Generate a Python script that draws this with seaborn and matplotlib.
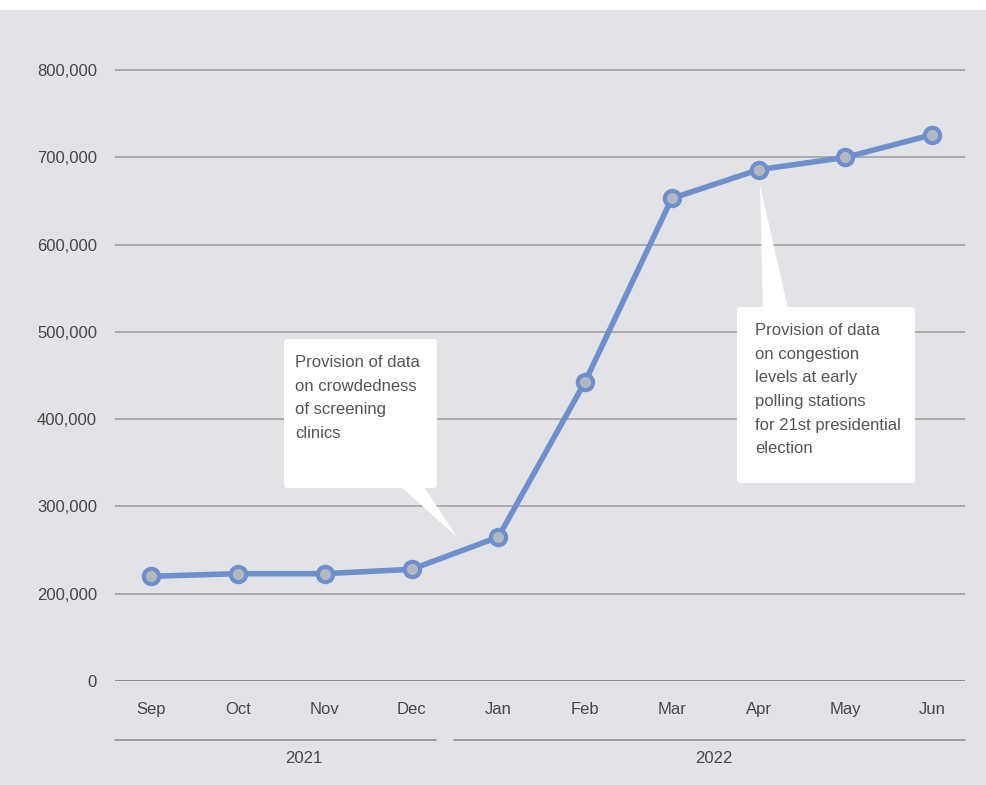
import matplotlib.pyplot as plt
import matplotlib.patches as mpatches
from matplotlib.transforms import blended_transform_factory
import seaborn as sns
import pandas as pd

# data
months = ['Sep', 'Oct', 'Nov', 'Dec', 'Jan', 'Feb', 'Mar', 'Apr', 'May', 'Jun']
users = [220000, 223000, 223000, 228000, 265000, 443000, 653000, 686000, 700000, 726000]
years = ['2021', '2022']
ytick_values = [100000, 200000, 300000, 400000, 500000, 600000, 700000, 800000]
ytick_labels = ['0', '200,000', '300,000', '400,000', '500,000', '600,000', '700,000', '800,000']
note_clinics = 'Provision of data\non crowdedness\nof screening\nclinics'
note_election = ('Provision of data\non congestion\nlevels at early\npolling stations\n'
                 'for 21st presidential\nelection')

sns.set_style('white')
plt.rcParams['font.family'] = ['Liberation Sans', 'DejaVu Sans']

BG = '#e2e3e7'
BLUE = '#6e8fcd'
W, H = 986, 785

fig = plt.figure(figsize=(W / 100, H / 100), dpi=100, facecolor=BG)


def fx(x):
    return x / W


def fy(y):
    return 1 - y / H


ax = fig.add_axes([fx(115), fy(681), fx(965) - fx(115), fy(44) - fy(681)])
ax.set_facecolor(BG)

df = pd.DataFrame({'pos': range(len(months)), 'users': users})
sns.lineplot(data=df, x='pos', y='users', ax=ax, color=BLUE, lw=4,
             marker='o', markersize=11, markerfacecolor='#b4b7be',
             markeredgecolor=BLUE, markeredgewidth=3, zorder=5)

ax.set_xlim(-0.42, 9.38)
ax.set_ylim(100000, 830000)
ax.set_yticks(ytick_values)
ax.set_yticklabels(ytick_labels)
ax.set_xticks(range(len(months)))
ax.set_xticklabels(months)
ax.tick_params(axis='y', length=0, pad=13, labelsize=12, labelcolor='#474747')
ax.tick_params(axis='x', length=0, pad=15, labelsize=12, labelcolor='#474747')
ax.set_xlabel('')
ax.set_ylabel('')
for s in ax.spines.values():
    s.set_visible(False)

ax.grid(axis='y', color='#9c9c9c', lw=1.1)
ax.grid(axis='x', visible=False)
ax.set_axisbelow(True)
ax.axhline(100000, color='#8c8c8c', lw=2, zorder=2)

# year brackets under the month labels
tr = blended_transform_factory(ax.transData, ax.transAxes)
spans = [(-0.42, 3.28), (3.49, 9.38)]
label_x = [1.76, 6.48]
for yr, (a, b), lx in zip(years, spans, label_x):
    ax.plot([a, b], [-0.0926, -0.0926], transform=tr, color='#979797', lw=1.3,
            clip_on=False)
    ax.text(lx, -0.122, yr, transform=tr, ha='center', va='center',
            fontsize=12, color='#474747')

# white top strip
fig.add_artist(mpatches.Rectangle((0, fy(10)), 1, 1 - fy(10), transform=fig.transFigure,
                                  facecolor='white', edgecolor='none', zorder=0.5))

# callouts


def callout(box, tail, text, text_xy):
    x0, y0, x1, y1 = box
    fig.add_artist(mpatches.FancyBboxPatch(
        (fx(x0), fy(y1)), fx(x1) - fx(x0), fy(y0) - fy(y1),
        boxstyle='round,pad=0,rounding_size=0.004', transform=fig.transFigure,
        facecolor='white', edgecolor='none', zorder=3))
    fig.add_artist(mpatches.Polygon([(fx(px), fy(py)) for px, py in tail],
                                    closed=True, transform=fig.transFigure,
                                    facecolor='white', edgecolor='none', zorder=3))
    fig.text(fx(text_xy[0]), fy(text_xy[1]), text, ha='left', va='top',
             fontsize=12, color='#555555', linespacing=1.72, zorder=4)


callout((284, 339, 437, 488), [(401, 487), (424, 487), (457, 537)],
        note_clinics, (295, 355))
callout((737, 307, 915, 483), [(760, 185), (763, 309), (788, 309)],
        note_election, (755, 323))

fig.savefig('out.png', dpi=100, facecolor=BG)
